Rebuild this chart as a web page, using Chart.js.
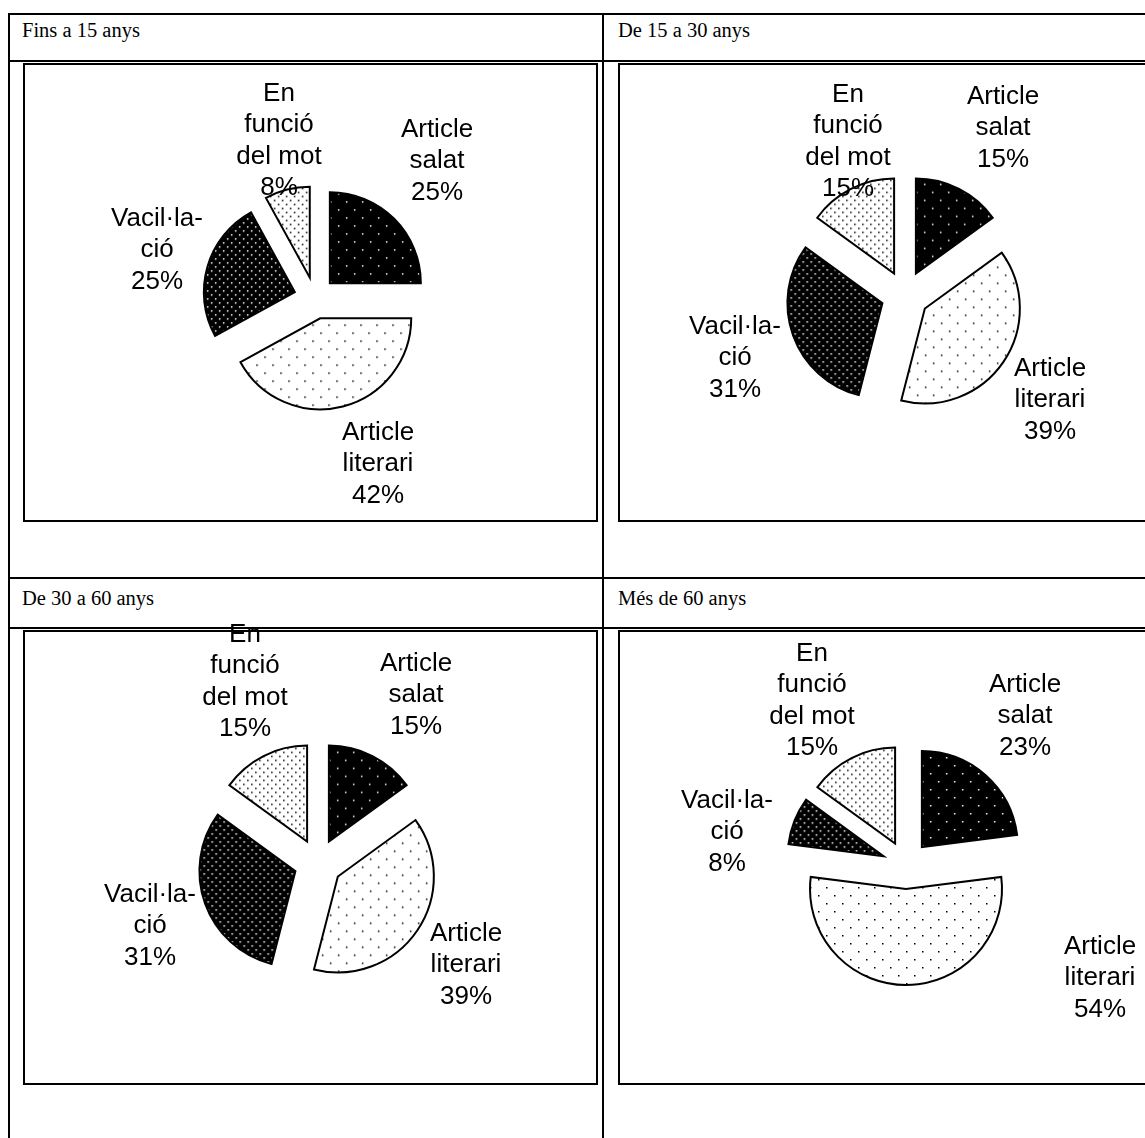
<!DOCTYPE html>
<html>
<head>
<meta charset="utf-8">
<title>Article salat / literari per edats</title>
<script src="https://cdn.jsdelivr.net/npm/chart.js@4.4.1/dist/chart.umd.min.js"></script>
<style>
  html, body { margin: 0; padding: 0; background: #fff; overflow: hidden; }
  #page { position: relative; width: 1145px; height: 1138px; overflow: hidden; }
  .hl { position: absolute; height: 2px; background: #000; }
  .vl { position: absolute; width: 2px; background: #000; }
  .box { position: absolute; border: 2px solid #000; box-sizing: border-box; }
  .head { position: absolute; font-family: 'Liberation Serif', 'Times New Roman', serif; font-size: 20.5px; line-height: 24px; color: #000; white-space: nowrap; }
  canvas { position: absolute; }
</style>
</head>
<body>
<div id="page">
  <!-- table grid -->
  <div class="hl" style="left:8px;top:13px;width:1137px"></div>
  <div class="hl" style="left:8px;top:60px;width:1137px"></div>
  <div class="hl" style="left:8px;top:577px;width:1137px"></div>
  <div class="hl" style="left:8px;top:627px;width:1137px"></div>
  <div class="vl" style="left:8px;top:13px;height:1125px"></div>
  <div class="vl" style="left:602px;top:13px;height:1125px"></div>
  <!-- chart frames -->
  <div class="box" style="left:23px;top:63px;width:575px;height:459px"></div>
  <div class="box" style="left:618px;top:63px;width:600px;height:459px"></div>
  <div class="box" style="left:23px;top:630px;width:575px;height:455px"></div>
  <div class="box" style="left:618px;top:630px;width:600px;height:455px"></div>
</div>
<script>
// age groups (one pie each)
const groups = ['Fins a 15 anys', 'De 15 a 30 anys', 'De 30 a 60 anys', 'Més de 60 anys'];
// slice categories, already split into lines as in the original labels
const categories = [['Article', 'salat'], ['Article', 'literari'], ['Vacil·la-', 'ció'], ['En', 'funció', 'del mot']];
// percentages per group
const valuesFins15 = [25, 42, 25, 8];
const values15a30 = [15, 39, 31, 15];
const values30a60 = [15, 39, 31, 15];
const valuesMes60 = [23, 54, 8, 15];

// layout only: pie centre on the page, radius, explode distance, label anchors relative to centre
const panels = [
  { values: valuesFins15, head: [22, 18], cx: 315, cy: 298, r: 91, explode: 21,
    labelAt: [[122, -137], [63, 166], [-158, -48], [-36, -157]] },
  { values: values15a30, head: [618, 18], cx: 905, cy: 295, r: 95, explode: 24,
    labelAt: [[98, -167], [145, 105], [-170, 63], [-57, -153]] },
  { values: values30a60, head: [22, 586], cx: 318, cy: 863, r: 96, explode: 24,
    labelAt: [[98, -168], [148, 102], [-168, 63], [-73, -181]] },
  { values: valuesMes60, head: [618, 586], cx: 906, cy: 865, r: 96, explode: 24,
    labelAt: [[119, -149], [194, 113], [-179, -33], [-94, -164]] }
];

const W = 560, H = 500;

function dotPattern(ctx, bg, fg, step) {
  const tile = document.createElement('canvas');
  tile.width = tile.height = step * 2;
  const t = tile.getContext('2d');
  t.fillStyle = bg;
  t.fillRect(0, 0, step * 2, step * 2);
  t.fillStyle = fg;
  t.fillRect(0, 0, 1.5, 1.5);
  t.fillRect(step, step, 1.5, 1.5);
  return ctx.createPattern(tile, 'repeat');
}

// pull every slice out along its mid angle by the same distance
const explodeSlices = {
  id: 'explodeSlices',
  beforeDatasetDraw(chart, args, opts) {
    const ctx = chart.ctx;
    args.meta.data.forEach(arc => {
      const mid = (arc.startAngle + arc.endAngle) / 2;
      ctx.save();
      ctx.translate(Math.cos(mid) * opts.distance, Math.sin(mid) * opts.distance);
      arc.draw(ctx, chart.chartArea);
      ctx.restore();
    });
    return false;
  }
};

// category + percentage around each slice
const sliceLabels = {
  id: 'sliceLabels',
  afterDatasetsDraw(chart, args, opts) {
    const ctx = chart.ctx;
    const meta = chart.getDatasetMeta(0);
    const data = chart.data.datasets[0].data;
    ctx.save();
    ctx.font = '26px "Liberation Sans", Arial, sans-serif';
    ctx.fillStyle = '#000';
    ctx.textAlign = 'center';
    ctx.textBaseline = 'middle';
    meta.data.forEach((arc, i) => {
      const lines = chart.data.labels[i].concat(data[i] + '%');
      const [dx, dy] = opts.at[i];
      const top = arc.y + dy - (lines.length - 1) * 31.5 / 2;
      lines.forEach((s, k) => ctx.fillText(s, arc.x + dx, top + k * 31.5));
    });
    ctx.restore();
  }
};

const page = document.getElementById('page');

panels.forEach((p, n) => {
  const head = document.createElement('div');
  head.className = 'head';
  head.style.left = p.head[0] + 'px';
  head.style.top = p.head[1] + 'px';
  head.textContent = groups[n];
  page.appendChild(head);

  const cv = document.createElement('canvas');
  cv.width = W;
  cv.height = H;
  cv.style.left = (p.cx - W / 2) + 'px';
  cv.style.top = (p.cy - H / 2) + 'px';
  page.appendChild(cv);
  const ctx = cv.getContext('2d');

  const fills = [
    dotPattern(ctx, '#000', '#fff', 8),
    dotPattern(ctx, '#fff', '#000', 8),
    dotPattern(ctx, '#000', '#fff', 4),
    dotPattern(ctx, '#fff', '#000', 4)
  ];

  new Chart(ctx, {
    type: 'pie',
    data: {
      labels: categories,
      datasets: [{
        data: p.values,
        backgroundColor: fills,
        borderColor: '#000',
        borderWidth: 2,
        borderJoinStyle: 'miter'
      }]
    },
    plugins: [explodeSlices, sliceLabels],
    options: {
      responsive: false,
      animation: false,
      radius: p.r,
      layout: { padding: 0 },
      events: [],
      plugins: {
        legend: { display: false },
        tooltip: { enabled: false },
        explodeSlices: { distance: p.explode },
        sliceLabels: { at: p.labelAt }
      }
    }
  });
});
</script>
</body>
</html>
